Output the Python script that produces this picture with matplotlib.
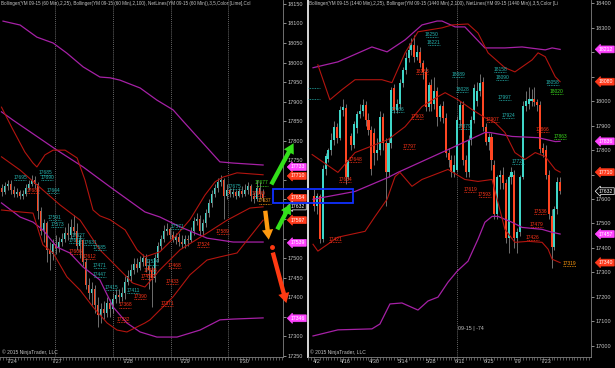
import matplotlib
matplotlib.use("Agg")
import matplotlib.pyplot as plt
from matplotlib.patches import Rectangle, FancyArrowPatch
from matplotlib.transforms import blended_transform_factory

plt.rcParams['font.family'] = ['Liberation Sans', 'DejaVu Sans']

# ---------------- LEFT PANEL (60 min) ----------------
L_open = [17680,17670,17685,17690,17675,17665,17670,17660,17665,17680,
          17690,17700,17690,17620,17570,17590,17520,17510,17535,17525,
          17540,17550,17565,17560,17580,17570,17530,17545,17490,17430,
          17410,17420,17380,17355,17370,17360,17385,17370,17395,17405,
          17400,17410,17440,17455,17470,17485,17475,17490,17500,17480,
          17470,17450,17500,17530,17550,17570,17575,17560,17545,17555,
          17540,17535,17550,17545,17570,17595,17600,17570,17590,17615,
          17640,17665,17680,17695,17700,17660,17675,17665,17670,17660,
          17672,17665,17675,17685,17660,17650,17680,17665]
L_close = [17670,17685,17690,17675,17665,17670,17660,17665,17680,17690,
           17700,17690,17620,17570,17590,17520,17510,17535,17525,17540,
           17550,17565,17560,17580,17570,17530,17545,17490,17430,17410,
           17420,17380,17355,17370,17360,17385,17370,17395,17405,17400,
           17410,17440,17455,17470,17485,17475,17490,17500,17480,17470,
           17450,17500,17530,17550,17570,17575,17560,17545,17555,17540,
           17535,17550,17545,17570,17595,17600,17570,17590,17615,17640,
           17665,17680,17695,17700,17660,17675,17665,17670,17660,17672,
           17665,17675,17685,17660,17650,17680,17665,17654]
L_high = [17690,17695,17700,17700,17685,17680,17675,17675,17690,17700,
          17712,17710,17695,17630,17600,17595,17540,17550,17560,17555,
          17565,17580,17590,17600,17610,17590,17560,17550,17500,17450,
          17440,17430,17400,17385,17390,17400,17395,17410,17420,17420,
          17425,17455,17470,17485,17500,17500,17505,17510,17510,17495,
          17480,17510,17540,17560,17585,17590,17580,17570,17565,17565,
          17560,17560,17560,17580,17605,17615,17610,17600,17625,17650,
          17675,17690,17705,17712,17705,17690,17680,17680,17675,17680,
          17685,17690,17695,17690,17670,17700,17695,17677]
L_low = [17660,17665,17675,17665,17655,17655,17650,17650,17660,17675,
         17685,17680,17600,17560,17540,17490,17470,17495,17510,17515,
         17530,17540,17545,17550,17560,17520,17500,17480,17420,17395,
         17380,17360,17325,17335,17345,17350,17350,17360,17385,17385,
         17390,17395,17430,17440,17460,17465,17470,17480,17465,17420,
         17375,17440,17490,17520,17540,17560,17550,17540,17535,17530,
         17525,17525,17530,17540,17560,17585,17560,17560,17580,17605,
         17630,17655,17670,17685,17600,17650,17655,17655,17650,17655,
         17655,17660,17665,17645,17640,17645,17650,17645]

# band curves read at sample bar positions
L_bb100_up_x = [0.5, 6.2, 11.8, 17.2, 21.8, 27.2, 32.8, 36.2, 39.5, 46.2, 51.8, 57.2, 60.2, 66.2, 72.8, 77.2, 87.2]
L_bb100_up_y = [18106, 18096, 18065, 18050, 18024, 17989, 17963, 17961, 17955, 17935, 17904, 17879, 17853, 17802, 17746, 17743, 17738]
L_bb100_mid_x = [0, 3.8, 18.5, 27.2, 36.2, 47.8, 52.8, 59.5, 68.5, 77.2, 87.2]
L_bb100_mid_y = [17874, 17853, 17776, 17733, 17682, 17618, 17605, 17580, 17551, 17541, 17541]
L_bb100_lo_x = [0, 6.2, 10.5, 13.8, 18.5, 22.8, 27.2, 32.8, 37.2, 41.8, 46.2, 51.8, 58.5, 66.2, 72.8, 77.2, 87.2]
L_bb100_lo_y = [17641, 17605, 17592, 17572, 17528, 17513, 17477, 17444, 17375, 17334, 17311, 17298, 17298, 17316, 17342, 17344, 17347]

L_bb25_up_x = [0, 3.5, 7.8, 10.5, 11.8, 14.5, 17.2, 21.2, 25.2, 27.8, 30.5, 32.8, 36.2, 41.2, 45.2, 47.8, 52.8, 57.8, 62.8, 67.8, 71.2, 73.8, 78.5, 87.2]
L_bb25_up_y = [17886, 17833, 17771, 17743, 17733, 17764, 17776, 17776, 17756, 17700, 17623, 17608, 17598, 17572, 17521, 17503, 17516, 17554, 17598, 17661, 17695, 17707, 17718, 17713]
L_bb25_mid_x = [0, 6.2, 13.8, 19.5, 26.2, 32.8, 36.2, 43.8, 47.8, 52.8, 59.5, 68.5, 75.2, 82.8, 87.2]
L_bb25_mid_y = [17759, 17725, 17674, 17636, 17597, 17521, 17495, 17436, 17426, 17470, 17521, 17564, 17597, 17628, 17631]
L_bb25_lo_x = [0, 6.2, 10.5, 13.8, 17.2, 21.8, 26.2, 30.5, 35.2, 38.5, 41.8, 47.8, 49.5, 57.2, 62.8, 68.5, 72.8, 78.5, 83.8, 87.2]
L_bb25_lo_y = [17623, 17618, 17615, 17534, 17513, 17452, 17418, 17375, 17334, 17316, 17311, 17334, 17342, 17401, 17457, 17495, 17503, 17513, 17564, 17597]

L_date_pos = [3.5, 18.5, 42.2, 61.2, 80.8]
L_date_lab = ['7/24', '7/27', '7/28', '7/29', '7/30']
L_session = [17.8, 37.2, 56.5, 75.5]
L_yticks = list(range(17250, 18151, 50))

L_lab_x = [6.2, 14.8, 15.2, 10.5, 17.2, 17.8, 18.5, 25.5, 24.5, 29.5, 24.8, 29.3, 32.8, 32.8, 32.8, 36.8,
           43.8, 46.2, 41.2, 40.5, 55.2, 56.8, 57.8, 48.5, 49.5, 50.2, 58.5, 73.8, 67.2, 77.8, 86.8, 85.8, 87.8]
L_lab_y = [17705, 17720, 17705, 17674, 17674, 17603, 17585, 17557, 17544, 17539, 17516, 17505, 17526, 17482, 17457, 17426,
           17418, 17401, 17380, 17342, 17383, 17441, 17480, 17452, 17467, 17490, 17582, 17569, 17534, 17684, 17692, 17666, 17646]
L_lab_t = ['17695', '17685', '17690', '17683', '17664', '17591', '17573', '17627', '17616', '17631', '17606', '17612',
           '17585', '17471', '17447', '17415', '17411', '17390', '17368', '17332', '17371', '17433', '17468', '17457',
           '17485', '17534', '17571', '17589', '17524', '17675', '17677', '17690', '17637']
L_lab_c = ['c', 'c', 'c', 'r', 'c', 'c', 'c', 'c', 'c', 'c', 'r', 'r', 'c', 'c', 'c', 'c', 'c', 'r', 'r', 'r', 'r', 'r',
           'r', 'r', 'r', 'c', 'c', 'r', 'r', 'c', 'g', 'r', 'o']

L_tag_val = [17733, 17710, 17654, 17632, 17597, 17539, 17346]
L_tag_kind = ['m', 'r', 'r', 'k', 'r', 'm', 'm']

# ---------------- RIGHT PANEL (daily) ----------------
R_idx = list(range(1, 88))
R_open = [17611,17570,17611,17436,17721,17765,17800,17840,17896,17851,17965,17974,17692,17856,17823,17890,17946,17960,
          17985,17925,17884,17870,17790,17800,17937,17830,17709,17830,18055,17966,17990,18076,18128,18177,18210,18230,
          18180,18200,18157,18120,17978,18067,17990,18040,17937,17980,17933,17790,17760,17709,17720,17925,17985,17760,
          17709,17840,17925,18000,18040,18080,17896,17835,17855,17740,17540,17690,17700,17665,17440,17690,17700,17440,
          17465,17690,17980,17990,18000,18010,17995,17985,17810,17800,17700,17530,17403,17560,17668]
R_high = [17640,17625,17620,17740,17790,17810,17870,17920,17910,17980,18010,17990,17760,17870,17920,17960,17990,18010,
          18000,17950,17900,17890,17850,17960,17950,17850,17850,18060,18070,18010,18090,18140,18200,18240,18260,18270,
          18230,18220,18170,18140,18080,18090,18100,18060,17990,18000,17950,17810,17780,17780,17940,18000,18000,17780,
          17860,17940,18070,18080,18110,18100,17910,17870,17870,17760,17700,17720,17730,17680,17700,17730,17720,17480,
          17700,18000,18040,18060,18050,18060,18010,18000,17830,17820,17720,17560,17570,17690,17690]
R_low = [17550,17540,17420,17425,17700,17750,17780,17820,17830,17840,17940,17660,17680,17800,17810,17870,17930,17940,
         17900,17860,17700,17740,17760,17780,17800,17570,17690,17810,17950,17950,17970,18060,18110,18160,18190,18160,
         18170,18140,18090,17960,17960,17960,17970,17900,17920,17910,17770,17730,17690,17690,17710,17900,17740,17690,
         17690,17820,17910,17980,18020,17880,17820,17800,17720,17520,17520,17640,17640,17420,17380,17660,17400,17380,
         17450,17680,17960,17970,17980,17980,17960,17790,17770,17680,17520,17320,17390,17540,17620]
R_close = [17570,17611,17436,17721,17774,17800,17840,17896,17851,17965,17975,17692,17760,17823,17905,17946,17960,17985,
           17925,17884,17721,17790,17800,17937,17830,17709,17830,18047,17966,17990,18076,18128,18177,18210,18230,18180,
           18200,18157,18120,17978,18067,17990,18040,17937,17980,17933,17790,17760,17709,17740,17925,17985,17760,17709,
           17840,17925,18055,18040,18075,17896,17835,17855,17760,17540,17690,17700,17665,17440,17690,17710,17440,17465,
           17690,17980,18000,18010,18010,17995,17985,17803,17790,17700,17540,17403,17560,17670,17632]

R_bb100_up_x = [0.6, 9.3, 21.2, 26.5, 32.8, 38.7, 44, 45.7, 50.3, 53.7, 60.7, 67.7, 73.7, 81.8, 84.2, 87]
R_bb100_up_y = [18137, 18161, 18222, 18202, 18251, 18312, 18328, 18328, 18304, 18304, 18218, 18218, 18222, 18210, 18218, 18212]
R_bb100_mid_x = [0.6, 15.3, 26.8, 30.3, 47.8, 60.7, 62.5, 70.2, 79.3, 85.3, 87]
R_bb100_mid_y = [17599, 17631, 17688, 17709, 17802, 17872, 17872, 17856, 17851, 17835, 17836]
R_bb100_lo_x = [0.6, 9.3, 21.2, 24, 27.5, 31.7, 37.3, 40.8, 44.3, 47.8, 51, 54.8, 58.3, 60.7, 63.2, 65.3, 70.2, 73.7, 80.7, 84.2, 87]
R_bb100_lo_y = [17040, 17065, 17069, 17089, 17171, 17175, 17146, 17183, 17199, 17260, 17305, 17346, 17436, 17505, 17529, 17529, 17505, 17484, 17476, 17464, 17457]
R_bb25_up_x = [2.3, 6.5, 10.7, 15.3, 24.7, 28.2, 32.8, 37.3, 45.7, 49.2, 54.8, 58.3, 61.8, 67.7, 71.2, 77.2, 79.3, 81.8, 85.3, 87]
R_bb25_up_y = [18149, 18006, 18047, 18088, 18088, 18076, 18198, 18284, 18300, 18312, 18316, 18279, 18198, 18137, 18120, 18169, 18198, 18182, 18100, 18080]
R_bb25_mid_x = [0.3, 9.3, 15.3, 26.8, 32.8, 38.7, 44.3, 46.8, 51.3, 56.2, 60.7, 64.2, 67.7, 71.2, 74.7, 78.3, 81.8, 85.3, 87]
R_bb25_mid_y = [17782, 17709, 17790, 17843, 17896, 17978, 18019, 18035, 18006, 17966, 17933, 17913, 17872, 17790, 17762, 17790, 17774, 17721, 17710]
R_bb25_lo_x = [0.6, 2.3, 9.3, 18.8, 22.3, 26.5, 29.3, 31, 35.2, 38.7, 47.8, 53.7, 58.3, 63.2, 67.7, 71.2, 75.8, 80.7, 82.8, 84.2, 87]
R_bb25_lo_y = [17415, 17387, 17444, 17468, 17529, 17599, 17692, 17709, 17652, 17680, 17721, 17680, 17672, 17680, 17476, 17423, 17427, 17423, 17395, 17354, 17340]

R_date_pos = [2, 12, 22, 32, 42, 52, 62, 72, 82]
R_date_lab = ['4/2', '4/16', '4/30', '5/14', '5/28', '6/11', '6/25', '7/9', '7/23']
R_yticks = list(range(17000, 18401, 100))
R_marker_line = 51

R_lab_x = [42.2, 42.9, 38.7, 51.3, 52.7, 66, 66.7, 84.5, 85.9, 67.7, 68.8, 63.5, 53.7, 81, 87, 72.3, 37, 34.2, 15.3,
           11.8, 8.3, 55.5, 60.7, 80, 78.9, 77.5, 90.2, 30.3]
R_lab_y = [18271, 18239, 18120, 18108, 18047, 18129, 18096, 18076, 18039, 18014, 17941, 17925, 17896, 17884, 17855,
           17754, 17937, 17815, 17762, 17680, 17436, 17639, 17619, 17550, 17497, 17444, 17338, 17966]
R_lab_t = ['18250', '18221', '18153', '18089', '18028', '18158', '18090', '18058', '18020', '17997', '17924', '17907',
           '17879', '17866', '17863', '17727', '17903', '17797', '17648', '17664', '17421', '17619', '17593', '17536',
           '17479', '17426', '17319', '17966']
R_lab_c = ['c', 'c', 'r', 'c', 'c', 'c', 'c', 'c', 'g', 'c', 'c', 'r', 'c', 'r', 'g', 'c', 'r', 'r', 'r', 'r', 'r',
           'r', 'r', 'r', 'r', 'r', 'o', 'c']
R_tag_val = [18212, 18080, 17836, 17710, 17632, 17457, 17340]
R_tag_kind = ['m', 'r', 'm', 'r', 'k', 'm', 'r']

# ---------------- styling ----------------
UP = '#3fd6c8'
DN = '#ff4622'
WICK = '#8c8c8c'
BAND_R = '#b3150f'
BAND_M = '#a621a6'
TXT = '#c4c4c4'
LAB_COL = {'c': '#26b4b0', 'r': '#ff3318', 'g': '#3cdc1e', 'o': '#ff9a10'}
TAG_COL = {'m': '#ff44ff', 'r': '#ff3a1c', 'k': '#000000'}

W, H = 615, 368
fig = plt.figure(figsize=(W / 100, H / 100), dpi=100, facecolor='black')


def px_axes(x0, x1, y0, y1):
    return fig.add_axes([x0 / W, 1 - y1 / H, (x1 - x0) / W, (y1 - y0) / H])


axL = px_axes(0, 283, 0, 357)
axR = px_axes(308, 591, 0, 357)
axL.set_zorder(3)


def style(ax, yticks, tags, px_per_unit, left_col):
    ax.set_facecolor('black')
    ax.yaxis.tick_right()
    ax.set_yticks(yticks)
    # tick labels hidden where a price tag sits on top of them (as in the platform)
    labels = []
    for v in yticks:
        covered = any(abs(v - t) * px_per_unit < 6.5 for t in tags)
        labels.append('' if covered else str(v))
    ax.set_yticklabels(labels)
    ax.tick_params(axis='y', colors=TXT, labelsize=4.0, length=2, width=0.5, pad=1)
    ax.tick_params(axis='x', colors=TXT, labelsize=4.0, length=0, pad=1.5)
    ax.tick_params(axis='x', which='minor', length=2, width=0.4, color='#9a9a9a')
    ax.spines['top'].set_visible(False)
    ax.spines['right'].set_color('#808080')
    ax.spines['right'].set_linewidth(0.6)
    ax.spines['bottom'].set_color('#808080')
    ax.spines['bottom'].set_linewidth(0.6)
    if left_col is None:
        ax.spines['left'].set_visible(False)
    else:
        ax.spines['left'].set_color(left_col)
        ax.spines['left'].set_linewidth(1.4)


def draw_candles(ax, idx, o, h, l, c, width):
    ax.vlines(idx, l, h, color=WICK, lw=0.55, zorder=2)
    bottoms = [min(a, b) for a, b in zip(o, c)]
    heights = [max(abs(b - a), 2) for a, b in zip(o, c)]
    cols = [UP if b >= a else DN for a, b in zip(o, c)]
    ax.bar(idx, heights, bottom=bottoms, width=width, color=cols, lw=0, zorder=3)


def draw_labels(ax, xs, ys, ts, cs, dx, dy):
    for x, y, t, k in zip(xs, ys, ts, cs):
        col = LAB_COL[k]
        ax.text(x, y, t, color=col, fontsize=3.5, ha='center', va='center', zorder=5, clip_on=True)
        ax.plot([x - dx, x + dx], [y - dy, y - dy], color=col, lw=0.6, ls=(0, (1, 1)), zorder=5)


def draw_tags(ax, vals, kinds):
    tr = blended_transform_factory(ax.transAxes, ax.transData)
    for v, k in zip(vals, kinds):
        fc = TAG_COL[k]
        ec = '#ffffff' if k == 'k' else fc
        ax.text(1.028, v, str(v), transform=tr, fontsize=3.7, color='white', ha='left', va='center',
                zorder=10, clip_on=False,
                bbox=dict(boxstyle='larrow,pad=0.18', fc=fc, ec=ec, lw=0.5))


# ---- left panel
Lidx = list(range(len(L_open)))
style(axL, L_yticks, L_tag_val, 357 / 913, None)
axL.set_xlim(-0.5, 93.83)
axL.set_ylim(17247, 18160)
for s in L_session:
    axL.axvline(s, color='#8a8a8a', lw=0.5, ls=(0, (1.5, 1.5)), zorder=1)
axL.plot(L_bb100_up_x, L_bb100_up_y, color=BAND_M, lw=0.9, zorder=4)
axL.plot(L_bb100_mid_x, L_bb100_mid_y, color=BAND_M, lw=0.9, zorder=4)
axL.plot(L_bb100_lo_x, L_bb100_lo_y, color=BAND_M, lw=0.9, zorder=4)
axL.plot(L_bb25_up_x, L_bb25_up_y, color=BAND_R, lw=0.8, zorder=4)
axL.plot(L_bb25_mid_x, L_bb25_mid_y, color=BAND_R, lw=0.8, zorder=4)
axL.plot(L_bb25_lo_x, L_bb25_lo_y, color=BAND_R, lw=0.8, zorder=4)
draw_candles(axL, Lidx, L_open, L_high, L_low, L_close, 0.62)
draw_labels(axL, L_lab_x, L_lab_y, L_lab_t, L_lab_c, 2.0, 6.5)
axL.set_xticks(L_date_pos)
axL.set_xticklabels(L_date_lab)
axL.set_xticks([i + 0.5 for i in range(-1, 94, 1)], minor=True)
draw_tags(axL, L_tag_val, L_tag_kind)
axL.text(0.004, 0.997, 'Bollinger(YM 09-15 (60 Min),2,25), Bollinger(YM 09-15 (60 Min),2,100), '
         'NetLines(YM 09-15 (60 Min)),3,5,Color [Lime],Col', transform=axL.transAxes, fontsize=3.35,
         color=TXT, ha='left', va='top', clip_on=True)
axL.text(0.006, 0.006, '\u00a9 2015 NinjaTrader, LLC', transform=axL.transAxes, fontsize=3.6,
         color=TXT, ha='left', va='bottom')

# arrows and selection box (annotations drawn in left-panel data units)
arrow_specs = [((89.5, 17682), (97.8, 17800), '#33e01a'),
               ((91.5, 17567), (96.8, 17645), '#33e01a'),
               ((87.8, 17628), (89.2, 17540), '#ff9a10'),
               ((90.2, 17521), (95.2, 17378), '#ff3a12')]
for (a, b, col) in arrow_specs:
    arr = FancyArrowPatch(a, b, arrowstyle='simple,head_width=0.9,head_length=0.8,tail_width=0.35',
                          mutation_scale=9, color=col, lw=0, zorder=12, clip_on=False)
    axL.add_patch(arr)
axL.plot([90.2], [17528], 'o', color='#ff3a12', ms=2.5, zorder=12, clip_on=False)
axL.add_patch(Rectangle((90.5, 17641), 26.7, 36, fill=False, ec='#1030ff', lw=1.3, zorder=13, clip_on=False))

# ---- right panel
style(axR, R_yticks, R_tag_val, 357 / 1460, '#d8d8d8')
axR.set_xlim(-1.15, 97.8)
axR.set_ylim(16954, 18414)
axR.axvline(R_marker_line, color='#8a8a8a', lw=0.5, ls=(0, (1.5, 1.5)), zorder=1)
axR.plot(R_bb100_up_x, R_bb100_up_y, color=BAND_M, lw=0.9, zorder=4)
axR.plot(R_bb100_mid_x, R_bb100_mid_y, color=BAND_M, lw=0.9, zorder=4)
axR.plot(R_bb100_lo_x, R_bb100_lo_y, color=BAND_M, lw=0.9, zorder=4)
axR.plot(R_bb25_up_x, R_bb25_up_y, color=BAND_R, lw=0.8, zorder=4)
axR.plot(R_bb25_mid_x, R_bb25_mid_y, color=BAND_R, lw=0.8, zorder=4)
axR.plot(R_bb25_lo_x, R_bb25_lo_y, color=BAND_R, lw=0.8, zorder=4)
draw_candles(axR, R_idx, R_open, R_high, R_low, R_close, 0.72)
draw_labels(axR, R_lab_x, R_lab_y, R_lab_t, R_lab_c, 2.2, 10)
axR.plot([-1.1, 3], [18055, 18055], color=LAB_COL['c'], lw=0.6, ls=(0, (1, 1)), zorder=5)
axR.plot([-1.1, 3], [18010, 18010], color=LAB_COL['c'], lw=0.6, ls=(0, (1, 1)), zorder=5)
axR.set_xticks(R_date_pos)
axR.set_xticklabels(R_date_lab)
axR.set_xticks([i for i in range(-1, 98)], minor=True)
draw_tags(axR, R_tag_val, R_tag_kind)
axR.text(R_marker_line + 0.4, 17069, '09-15 | -74', fontsize=3.8, color=TXT, ha='left', va='center')
axR.text(0.004, 0.997, 'Bollinger(YM 09-15 (1440 Min),2,25), Bollinger(YM 09-15 (1440 Min),2,100), '
         'NetLines(YM 09-15 (1440 Min)),3,5,Color [Li', transform=axR.transAxes, fontsize=3.35,
         color=TXT, ha='left', va='top', clip_on=True)
axR.text(0.006, 0.006, '\u00a9 2015 NinjaTrader, LLC', transform=axR.transAxes, fontsize=3.6,
         color=TXT, ha='left', va='bottom')

fig.savefig('out.png', dpi=100, facecolor='black')
